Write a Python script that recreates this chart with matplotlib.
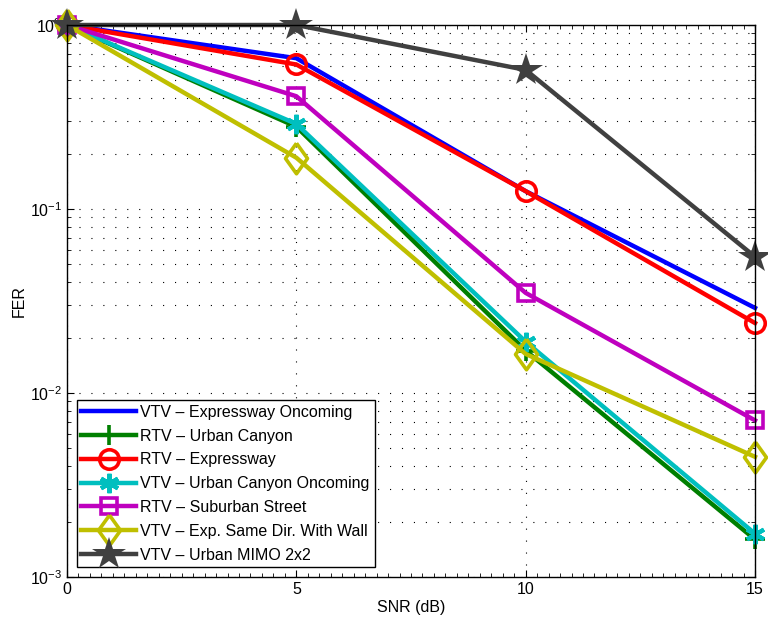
import numpy as np
import matplotlib
matplotlib.use("Agg")
import matplotlib.pyplot as plt
from matplotlib.ticker import MultipleLocator, LogLocator, NullFormatter

plt.rcParams['font.family'] = ['Liberation Sans', 'DejaVu Sans']
plt.rcParams['mathtext.fontset'] = 'custom'
plt.rcParams['mathtext.rm'] = 'Liberation Sans'
plt.rcParams['mathtext.it'] = 'Liberation Sans'
plt.rcParams['lines.scale_dashes'] = False

snr = [0, 5, 10, 15]

vtv_exp_oncoming = [1.0, 0.66, 0.125, 0.029]
rtv_urban_canyon = [1.0, 0.28, 0.0170, 0.00160]
rtv_expressway = [1.0, 0.61, 0.125, 0.024]
vtv_urban_canyon_onc = [1.0, 0.29, 0.0190, 0.00172]
rtv_suburban = [1.0, 0.41, 0.035, 0.0071]
vtv_exp_same_dir = [1.0, 0.19, 0.0163, 0.0045]
vtv_urban_mimo = [1.0, 1.0, 0.57, 0.055]

labels = [
    'VTV \u2013 Expressway Oncoming',
    'RTV \u2013 Urban Canyon',
    'RTV \u2013 Expressway',
    'VTV \u2013 Urban Canyon Oncoming',
    'RTV \u2013 Suburban Street',
    'VTV \u2013 Exp. Same Dir. With Wall',
    'VTV \u2013 Urban MIMO 2x2',
]

# tall diamond like the one matlab draws
tall_diamond = [(0, 1), (0.72, 0), (0, -1), (-0.72, 0), (0, 1)]

fig = plt.figure(figsize=(7.68, 6.19), dpi=100)
ax = fig.add_axes([67 / 768, 1 - 577 / 619, 688 / 768, 552 / 619])

lw = 3.2
mew = 2.6
common = dict(lw=lw, clip_on=False)
ax.plot(snr, vtv_exp_oncoming, color='#0000ff', label=labels[0], **common)
ax.plot(snr, rtv_urban_canyon, color='#007f00', marker='+', ms=15, mew=mew, label=labels[1], **common)
ax.plot(snr, rtv_expressway, color='#ff0000', marker='o', ms=14, mew=mew, mfc='none', label=labels[2], **common)
ax.plot(snr, vtv_urban_canyon_onc, color='#00bfbf', marker=(6, 2, 0), ms=14, mew=3, label=labels[3], **common)
ax.plot(snr, rtv_suburban, color='#bf00bf', marker='s', ms=12, mew=mew, mfc='none', label=labels[4], **common)
ax.plot(snr, vtv_exp_same_dir, color='#bfbf00', marker=tall_diamond, ms=22, mew=mew, mfc='none', label=labels[5], **common)
ax.plot(snr, vtv_urban_mimo, color='#404040', marker='*', ms=25, mew=0, label=labels[6], **common)

ax.set_yscale('log')
ax.set_xlim(0, 15)
ax.set_ylim(1e-3, 1)
ax.xaxis.set_major_locator(MultipleLocator(5))
ax.xaxis.set_minor_locator(MultipleLocator(0.25))
ax.yaxis.set_major_locator(LogLocator(base=10, numticks=10))
ax.yaxis.set_minor_locator(LogLocator(base=10, subs=np.arange(2, 10), numticks=10))
ax.yaxis.set_minor_formatter(NullFormatter())

ax.tick_params(which='both', direction='in', top=True, right=True, labelsize=11.5)
ax.tick_params(which='major', length=5, width=0.8)
ax.tick_params(which='minor', length=3, width=0.6)
for s in ax.spines.values():
    s.set_linewidth(1.0)

dots = (0, (0.8, 7.8))
ax.grid(True, which='major', axis='both', color='k', lw=0.8, linestyle=dots)
ax.grid(True, which='minor', axis='y', color='k', lw=0.8, linestyle=dots)
ax.set_axisbelow(True)

ax.set_xlabel('SNR (dB)', fontsize=11.5, labelpad=2)
ax.set_ylabel('FER', fontsize=11.5, labelpad=2)

leg = ax.legend(loc='lower left', fontsize=11.5, frameon=True, fancybox=False,
                edgecolor='k', framealpha=1, handlelength=3.4, borderpad=0.3,
                labelspacing=0.55, handletextpad=0.3, borderaxespad=0.6)
leg.get_frame().set_linewidth(1.0)

fig.savefig('out.png', dpi=100)
